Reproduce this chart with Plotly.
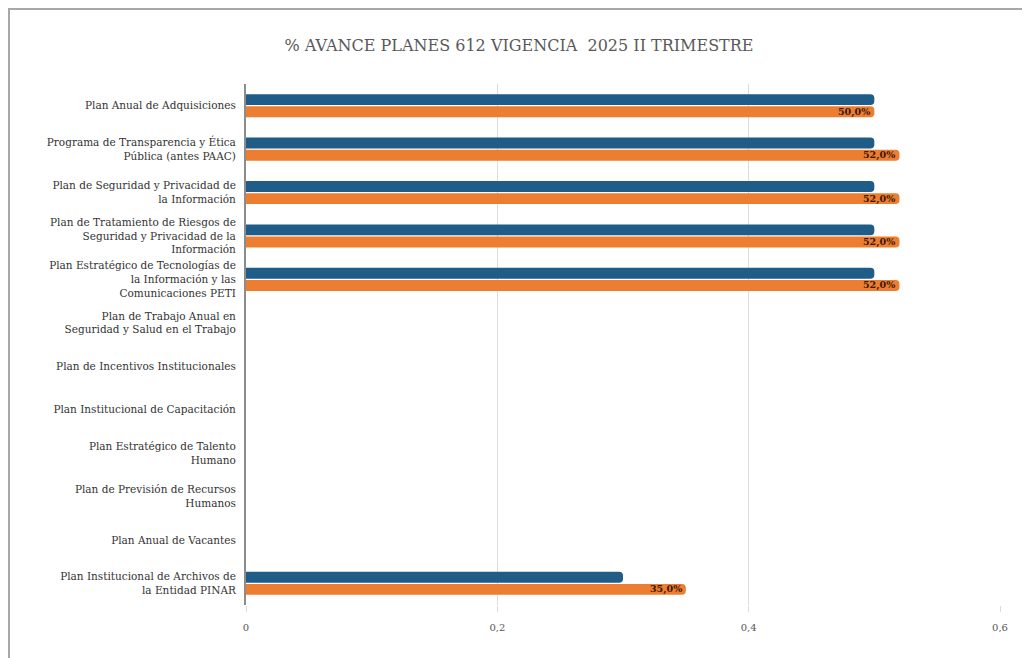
import plotly.graph_objects as go

categories = [
    "Plan Anual de Adquisiciones",
    "Programa de Transparencia y Ética<br>Pública (antes PAAC)",
    "Plan de Seguridad y Privacidad de<br>la Información",
    "Plan de Tratamiento de Riesgos de<br>Seguridad y Privacidad de la<br>Información",
    "Plan Estratégico de Tecnologías de<br>la Información y las<br>Comunicaciones PETI",
    "Plan de Trabajo Anual en<br>Seguridad y Salud en el Trabajo",
    "Plan de Incentivos Institucionales",
    "Plan Institucional de Capacitación",
    "Plan Estratégico de Talento<br>Humano",
    "Plan de Previsión de Recursos<br>Humanos",
    "Plan Anual de Vacantes",
    "Plan Institucional de Archivos de<br>la Entidad PINAR",
]
programado = [0.50, 0.50, 0.50, 0.50, 0.50, None, None, None, None, None, None, 0.30]
avance = [0.50, 0.52, 0.52, 0.52, 0.52, None, None, None, None, None, None, 0.35]
x_ticks = [0, 0.2, 0.4, 0.6]
x_ticklabels = ["0", "0,2", "0,4", "0,6"]

BLUE = "#1f5c87"
ORANGE = "#ed7d31"
SERIF = "DejaVu Serif"

# the page body adds an 8px margin, so the figure is 8px smaller on each axis
W, H = 1022, 650
L, R, T, B = 238, 30, 76, 53
pw, ph = W - L - R, H - T - B
def px(x):
    return (x - L) / pw
def py(y):
    return (H - B - y) / ph

fig = go.Figure()
fig.add_trace(go.Bar(
    y=categories, x=programado, orientation="h", name="Programado",
    marker=dict(color=BLUE, line=dict(width=0)), showlegend=False,
))
fig.add_trace(go.Bar(
    y=categories, x=avance, orientation="h", name="Avance",
    marker=dict(color=ORANGE, line=dict(width=0)), showlegend=False,
))

# value labels at the end of the orange bars
annotations = []
for cat, v in zip(categories, avance):
    if v is None:
        continue
    annotations.append(dict(
        x=v, y=cat, xref="x", yref="y",
        text=f"<b>{v * 100:.1f}%</b>".replace(".", ","),
        showarrow=False, xanchor="right", yanchor="middle",
        xshift=-2, yshift=-6,
        font=dict(family=SERIF, size=9.5, color="#3a1800"),
    ))

fig.update_layout(
    width=W, height=H,
    margin=dict(l=L, r=R, t=T, b=B),
    paper_bgcolor="white", plot_bgcolor="white",
    separators=",.",
    barmode="group", bargap=0.44, bargroupgap=0.1,
    barcornerradius=4,
    title=dict(text="% AVANCE PLANES 612 VIGENCIA  2025 II TRIMESTRE",
               x=0.5, xanchor="center", y=1 - 37 / H, yanchor="middle",
               font=dict(family=SERIF, size=16, color="#595959")),
    xaxis=dict(range=[0, 0.6], tickvals=x_ticks, ticktext=x_ticklabels,
               showgrid=True, gridcolor="#dcdcdc", gridwidth=1,
               zeroline=False, ticks="outside", ticklen=6, tickcolor="#dcdcdc",
               ticklabelstandoff=7,
               tickfont=dict(family=SERIF, size=10, color="#555555"),
               showline=False),
    yaxis=dict(autorange="reversed", showgrid=False, zeroline=False,
               showline=True, linecolor="#8c8c8c", linewidth=2,
               ticks="", ticklabelstandoff=6,
               tickfont=dict(family=SERIF, size=10.5, color="#333333")),
    annotations=annotations,
    shapes=[
        dict(type="line", xref="paper", yref="paper",
             x0=px(1), x1=px(1), y0=py(0), y1=py(H + 5),
             line=dict(color="#a8a8a8", width=2)),
        dict(type="line", xref="paper", yref="paper",
             x0=px(0), x1=px(W + 5), y0=py(1), y1=py(1),
             line=dict(color="#a8a8a8", width=2)),
    ],
)

fig.write_html("out.html")
